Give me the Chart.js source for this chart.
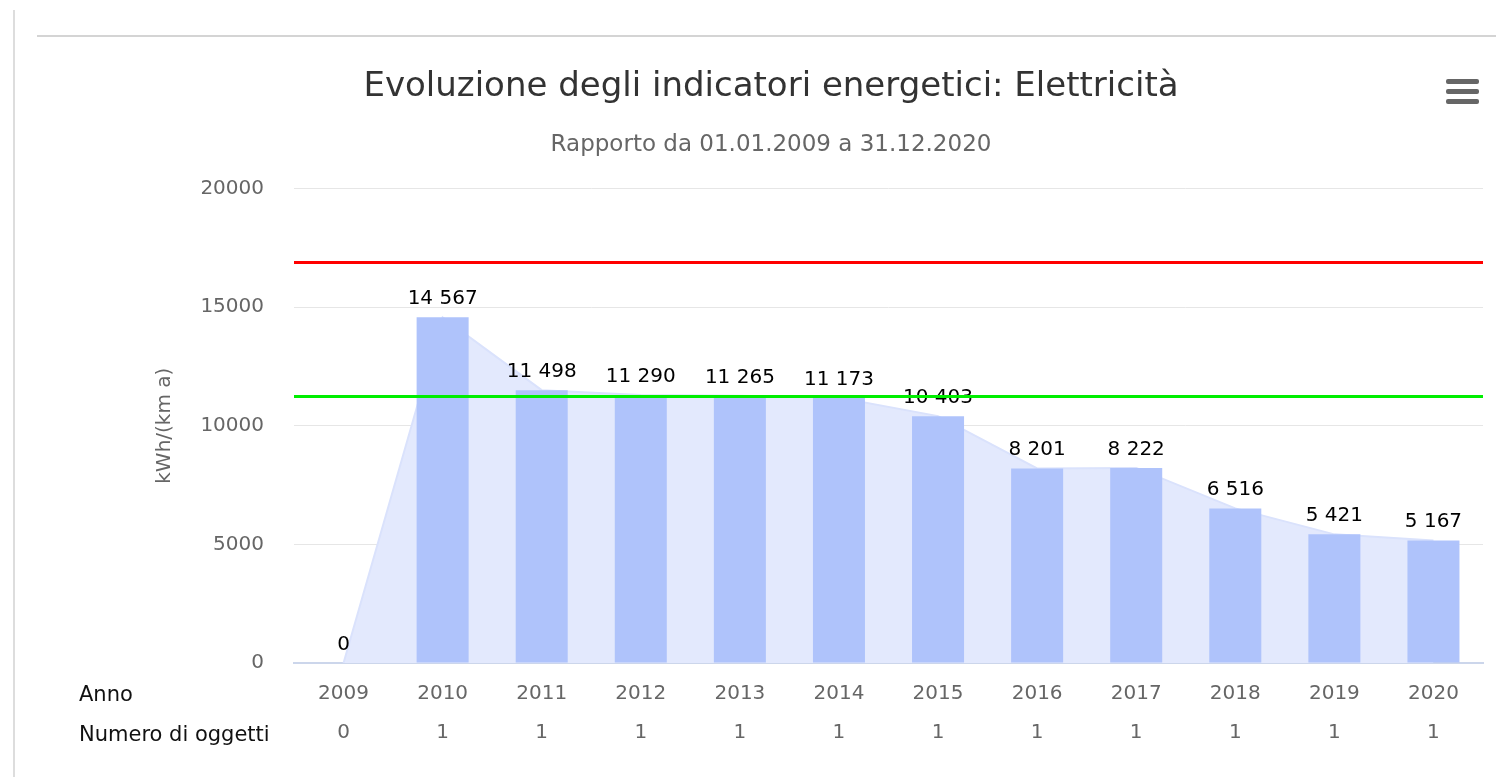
<!DOCTYPE html>
<html>
<head>
<meta charset="utf-8">
<title>Evoluzione degli indicatori energetici: Elettricità</title>
<script src="https://cdn.jsdelivr.net/npm/chart.js@4/dist/chart.umd.min.js"></script>
<style>
  html, body { margin: 0; padding: 0; background: #fff; }
  #wrap { position: relative; width: 1496px; height: 777px; overflow: hidden; }
  #bordo-sx { position: absolute; left: 13px; top: 10px; bottom: 0; border-left: 2px solid #ddd; }
  #bordo-top { position: absolute; left: 37px; right: 0; top: 35px; border-top: 2px solid #d4d4d4; }
  #menu { position: absolute; left: 1446px; top: 79px; width: 33px; }
  #menu span { display: block; height: 5px; margin-bottom: 5px; background: #666; border-radius: 2px; }
  #grafico { position: absolute; left: 0; top: 0; }
</style>
</head>
<body>
<div id="wrap">
  <div id="bordo-sx"></div>
  <div id="bordo-top"></div>
  <canvas id="grafico" width="1496" height="777"></canvas>
  <div id="menu"><span></span><span></span><span></span></div>
</div>
<script>
// === Dati ===
const anni = ['2009', '2010', '2011', '2012', '2013', '2014', '2015', '2016', '2017', '2018', '2019', '2020'];
const consumo = [0, 14567, 11498, 11290, 11265, 11173, 10403, 8201, 8222, 6516, 5421, 5167];
const numeroOggetti = [0, 1, 1, 1, 1, 1, 1, 1, 1, 1, 1, 1];
const valoreLimite = 16900;   // linea rossa
const valoreObiettivo = 11270; // linea verde

const FONT = '"DejaVu Sans", Verdana, sans-serif';

// 14567 -> "14 567"
function formatta(v) {
  return String(v).replace(/\B(?=(\d{3})+(?!\d))/g, ' ');
}

// etichette sopra le barre + linee orizzontali di riferimento
const pluginEtichette = {
  id: 'etichette',
  afterDatasetsDraw(chart) {
    const ctx = chart.ctx;
    const meta = chart.getDatasetMeta(0);
    ctx.save();
    ctx.font = '20px ' + FONT;
    ctx.fillStyle = '#000';
    ctx.textAlign = 'center';
    ctx.textBaseline = 'alphabetic';
    meta.data.forEach((bar, i) => {
      ctx.fillText(formatta(consumo[i]), bar.x, bar.y - 13);
    });

    const { left, right } = chart.chartArea;
    const y = chart.scales.y;
    [[valoreLimite, '#ff0000'], [valoreObiettivo, '#00ee00']].forEach(([v, col]) => {
      const py = Math.round(y.getPixelForValue(v)) + 0.5;
      ctx.strokeStyle = col;
      ctx.lineWidth = 3;
      ctx.beginPath();
      ctx.moveTo(left, py);
      ctx.lineTo(right, py);
      ctx.stroke();
    });
    ctx.restore();
  },
  afterDraw(chart) {
    // intestazioni delle righe sotto l'asse
    const ctx = chart.ctx;
    const bottom = chart.chartArea.bottom;
    ctx.save();
    ctx.font = '21px ' + FONT;
    ctx.fillStyle = '#111';
    ctx.textAlign = 'left';
    ctx.textBaseline = 'middle';
    ctx.fillText('Anno', 79, bottom + 33);
    ctx.fillText('Numero di oggetti', 79, bottom + 73);
    ctx.restore();
  }
};

new Chart(document.getElementById('grafico'), {
  type: 'bar',
  data: {
    labels: anni.map((a, i) => [a, String(numeroOggetti[i])]),
    datasets: [
      {
        type: 'bar',
        data: consumo,
        backgroundColor: '#afc3fb',
        categoryPercentage: 1,
        barPercentage: 0.525,
        order: 1
      },
      {
        type: 'line',
        data: consumo,
        fill: 'origin',
        backgroundColor: '#e3e9fd',
        borderColor: '#dae2fc',
        borderWidth: 2,
        pointRadius: 0,
        tension: 0,
        order: 2
      }
    ]
  },
  options: {
    responsive: false,
    animation: false,
    layout: { padding: { left: 59, right: 13, top: 0, bottom: 0 } },
    plugins: {
      legend: { display: false },
      tooltip: { enabled: false },
      title: {
        display: true,
        text: 'Evoluzione degli indicatori energetici: Elettricità',
        color: '#333',
        font: { family: FONT, size: 34, weight: 'normal' },
        padding: { top: 67, bottom: 0 }
      },
      subtitle: {
        display: true,
        text: 'Rapporto da 01.01.2009 a 31.12.2020',
        color: '#666',
        font: { family: FONT, size: 23 },
        padding: { top: 23, bottom: 30 }
      }
    },
    scales: {
      x: {
        grid: { display: false, drawTicks: false },
        border: { display: true, color: '#ccd6eb', width: 2 },
        ticks: {
          color: '#666',
          padding: 11,
          maxRotation: 0,
          font: { family: FONT, size: 20, lineHeight: 1.95 }
        },
        afterFit(scale) { scale.height = 114; }
      },
      y: {
        min: 0,
        max: 20000,
        grid: { color: '#e6e6e6', drawTicks: false },
        border: { display: false },
        ticks: {
          stepSize: 5000,
          color: '#666',
          padding: 30,
          font: { family: FONT, size: 20 },
          callback: v => String(v)
        },
        title: {
          display: true,
          text: 'kWh/(km a)',
          color: '#666',
          font: { family: FONT, size: 20 },
          padding: { top: 94, bottom: 0 }
        },
        afterFit(scale) { scale.width = 235; }
      }
    }
  },
  plugins: [pluginEtichette]
});
</script>
</body>
</html>
